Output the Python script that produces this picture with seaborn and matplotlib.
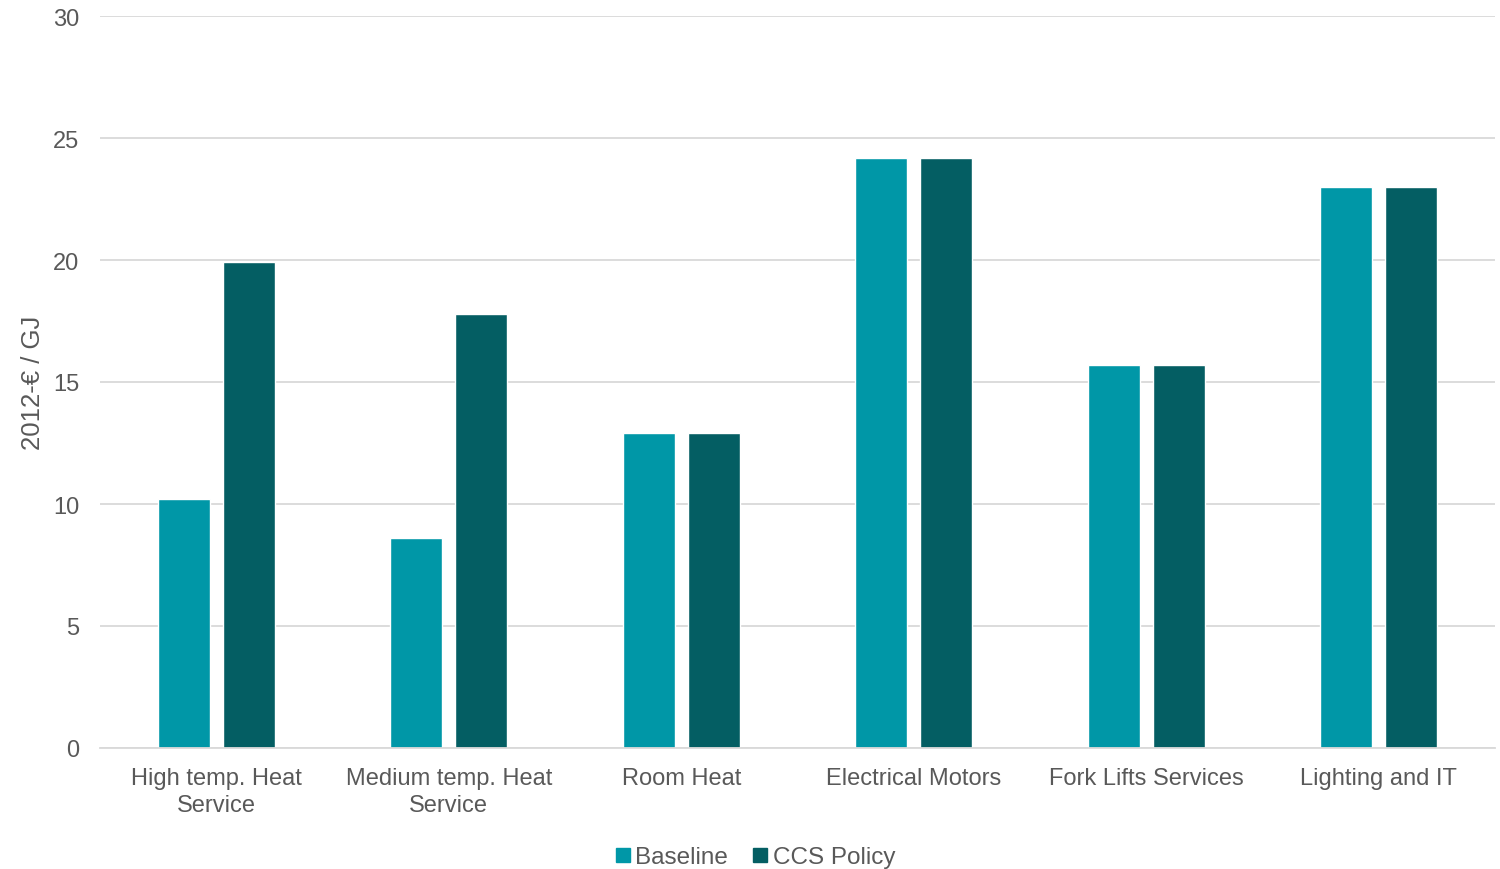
import matplotlib
matplotlib.use("Agg")
import matplotlib.pyplot as plt
import seaborn as sns
import pandas as pd

# Levelised service costs by end use
categories = ["High temp. Heat\nService", "Medium temp. Heat\nService", "Room Heat",
              "Electrical Motors", "Fork Lifts Services", "Lighting and IT"]
baseline = [10.2, 8.6, 12.9, 24.2, 15.7, 23.0]
ccs_policy = [19.9, 17.8, 12.9, 24.2, 15.7, 23.0]
series_names = ["Baseline", "CCS Policy"]
y_ticks = [0, 5, 10, 15, 20, 25, 30]

df = pd.DataFrame({
    "category": categories * 2,
    "scenario": [series_names[0]] * len(categories) + [series_names[1]] * len(categories),
    "value": baseline + ccs_policy,
})

sns.set_theme(style="white")
plt.rcParams["font.family"] = ["Liberation Sans", "DejaVu Sans"]
text_color = "#595959"

fig = plt.figure(figsize=(15, 8.7), dpi=100)
ax = fig.add_axes([100 / 1500, 1 - 749 / 870, 1395 / 1500, 732 / 870])

palette = {"Baseline": "#0097A7", "CCS Policy": "#045E63"}
sns.barplot(data=df, x="category", y="value", hue="scenario", palette=palette,
            width=0.56, gap=0.2, saturation=1, ax=ax, legend=False)

ax.set_ylim(0, 30)
ax.set_xlim(-0.5, 5.5)
ax.set_yticks(y_ticks)
ax.yaxis.grid(True, color="#D9D9D9", linewidth=1.3)
ax.set_axisbelow(True)
for side in ["top", "right", "left"]:
    ax.spines[side].set_visible(False)
ax.spines["bottom"].set_color("#D9D9D9")
ax.spines["bottom"].set_linewidth(1.3)

ax.tick_params(axis="both", length=0, labelsize=17, colors=text_color)
ax.tick_params(axis="y", pad=15)
ax.tick_params(axis="x", pad=14)
for lab in ax.get_xticklabels():
    lab.set_linespacing(1.25)
ax.set_xlabel("")
ax.set_ylabel("2012-€ / GJ", fontsize=18.5, color=text_color, labelpad=6)

handles = [plt.Line2D([], [], marker="s", linestyle="", markersize=10,
                      markerfacecolor=palette[n], markeredgecolor=palette[n])
           for n in series_names]
fig.legend(handles, series_names, loc="center", bbox_to_anchor=(0.501, 1 - 858 / 870),
           ncol=2, frameon=False, fontsize=17.5, labelcolor=text_color,
           handletextpad=-0.1, columnspacing=0.75, handlelength=1.2)

fig.savefig("out.png", dpi=100)
